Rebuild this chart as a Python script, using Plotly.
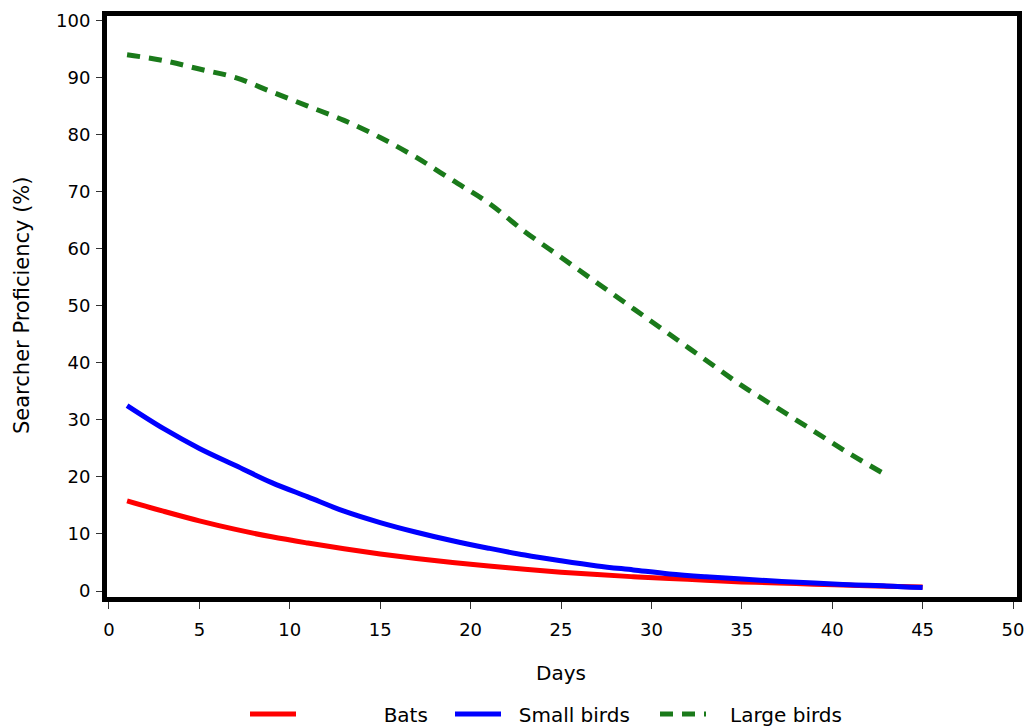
import plotly.graph_objects as go

days = [1, 3, 5, 7, 9, 11, 13, 15, 17, 19, 21, 23, 25, 27, 29, 31, 33, 35, 37, 39, 41, 43, 45]
bats = [15.8, 14.0, 12.3, 10.8, 9.5, 8.4, 7.4, 6.5, 5.7, 5.0, 4.4, 3.8, 3.3, 2.9, 2.5, 2.2, 1.9, 1.6, 1.4, 1.2, 1.0, 0.85, 0.7]
small_birds = [32.5, 28.5, 25.0, 22.0, 19.0, 16.5, 14.0, 12.0, 10.3, 8.8, 7.5, 6.3, 5.3, 4.4, 3.7, 3.0, 2.5, 2.1, 1.7, 1.4, 1.1, 0.9, 0.6]
large_days = [1, 3, 5, 7, 9, 11, 13, 15, 17, 19, 21, 23, 25, 27, 29, 31, 33, 35, 37, 39, 41, 43]
large_birds = [94.0, 93.0, 91.5, 90.0, 87.5, 85.0, 82.5, 79.5, 76.0, 72.0, 68.0, 63.0, 58.5, 54.0, 49.5, 45.0, 40.5, 36.0, 32.0, 28.0, 24.0, 20.3]

x_ticks = [0, 5, 10, 15, 20, 25, 30, 35, 40, 45, 50]
y_ticks = [0, 10, 20, 30, 40, 50, 60, 70, 80, 90, 100]

FONT = "DejaVu Sans, Verdana, sans-serif"
NB = "\u00a0"

fig = go.Figure()
fig.add_trace(go.Scatter(x=days, y=bats, mode="lines", name=NB * 13 + "Bats",
                         line=dict(color="#ff0000", width=5, shape="spline")))
fig.add_trace(go.Scatter(x=days, y=small_birds, mode="lines", name=NB * 2 + "Small birds",
                         line=dict(color="#0000ff", width=5, shape="spline")))
fig.add_trace(go.Scatter(x=large_days, y=large_birds, mode="lines", name=NB * 3 + "Large birds",
                         line=dict(color="#1a7a1a", width=5, shape="spline", dash="13px,9px")))

fig.update_layout(
    width=1029, height=727,
    margin=dict(l=107, r=12, t=16, b=130, autoexpand=False),
    paper_bgcolor="white", plot_bgcolor="white",
    font=dict(family=FONT, size=18, color="black"),
    showlegend=True,
    legend=dict(orientation="h", xref="container", yref="container",
                x=245 / 1029, xanchor="left", y=1 - 714 / 727, yanchor="middle",
                font=dict(size=20), itemwidth=46, traceorder="normal",
                entrywidth=144, entrywidthmode="pixels"),
    annotations=[
        dict(text="Days", xref="paper", yref="paper", x=(561 - 107) / 910, y=(597 - 673) / 581,
             xanchor="center", yanchor="middle", showarrow=False, font=dict(size=20)),
        dict(text="Searcher Proficiency (%)", xref="paper", yref="paper",
             x=(22 - 107) / 910, y=(597 - 305) / 581, textangle=-90,
             xanchor="center", yanchor="middle", showarrow=False, font=dict(size=21)),
    ],
)
fig.update_xaxes(
    range=[-0.11, 50.22], tickvals=x_ticks, ticks="outside", ticklen=7, tickwidth=1,
    tickcolor="#333", showgrid=False, zeroline=False, showline=True, linewidth=5,
    linecolor="black", mirror=True, automargin=False, tickfont=dict(size=18),
    ticklabelstandoff=5,
)
fig.update_yaxes(
    range=[-1.05, 100.8], tickvals=y_ticks, ticks="outside", ticklen=6, tickwidth=1,
    tickcolor="#333", showgrid=False, zeroline=False, showline=True, linewidth=5,
    linecolor="black", mirror=True, automargin=False, tickfont=dict(size=18),
    ticklabelstandoff=2,
)

fig.write_html("out.html", config={"displayModeBar": False},
               post_script="document.body.style.margin='0';document.body.style.overflow='hidden';")
